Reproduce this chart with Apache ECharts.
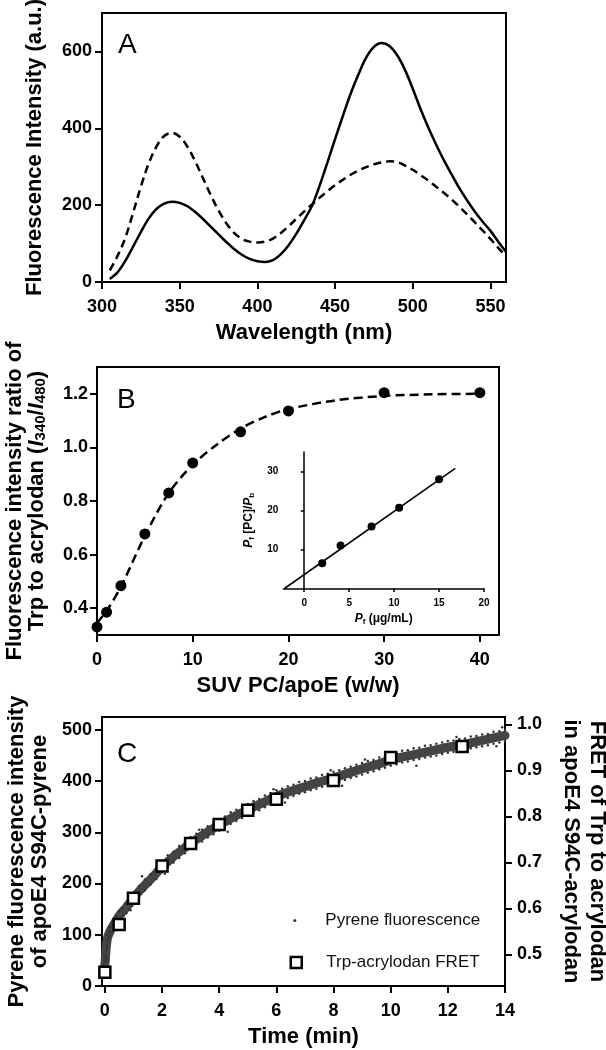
<!DOCTYPE html>
<html><head><meta charset="utf-8">
<script src="https://cdn.jsdelivr.net/npm/echarts@6/dist/echarts.min.js"></script>
<style>html,body{margin:0;padding:0;background:#fff}#c{width:606px;height:1050px}</style>
</head><body><div id="c"></div>
<script>
// ---------- Panel A: emission spectra ----------
const wavelengthNm = [305,310,315,320,325,330,335,340,345,350,355,360,365,370,375,380,385,390,395,400,405,410,415,420,425,430,435,440,445,450,455,460,465,470,475,480,485,490,495,500,505,510,515,520,525,530,535,540,545,550,555,560];
const spectrumSolid = [8,25,55,92,130,165,190,204,209,206,197,182,164,144,124,104,86,71,60,54,52,57,72,95,125,160,197,250,310,372,432,490,540,584,612,622,614,590,552,503,450,402,358,317,280,244,212,183,157,133,105,79];
const spectrumDashed = [30,68,115,180,248,308,352,380,388,378,352,314,270,226,186,153,128,112,105,103,105,113,127,145,164,183,201,219,236,252,266,279,290,299,306,311,314,312,303,292,278,264,248,232,215,196,176,155,134,112,89,67];
const ticksA_x = [300,350,400,450,500,550];
const ticksA_y = [0,200,400,600];

// ---------- Panel B: ratio vs SUV PC/apoE ----------
const ratioPcApoE = [0,1,2.5,5,7.5,10,15,20,30,40];
const ratioValues = [0.33,0.385,0.484,0.677,0.83,0.942,1.058,1.136,1.204,1.204];
const fitPcApoE = [0,1,2.5,5,7.5,10,12.5,15,17.5,20,25,30,35,40];
const fitValues = [0.345,0.39,0.48,0.67,0.83,0.935,1.01,1.07,1.113,1.143,1.176,1.192,1.198,1.2];
const ticksB_x = [0,10,20,30,40];
const ticksB_y = [0.4,0.6,0.8,1.0,1.2];

// ---------- Panel B inset ----------
const insetPf = [2.0,4.04,7.49,10.56,15.0];
const insetRatio = [6.5,11.0,15.9,20.7,28.0];
const insetFitX = [-2.2,16.8];
const insetFitY = [0,30.8];
const ticksInset_x = [0,5,10,15,20];
const ticksInset_y = [10,20,30];

// ---------- Panel C: kinetics ----------
const fretTime = [0,0.5,1,2,3,4,5,6,8,10,12.5];
const fretValues = [0.461,0.565,0.622,0.692,0.741,0.782,0.813,0.837,0.878,0.928,0.952];
const pyreneTime = [0,0.03,0.06,0.1,0.15,0.2,0.3,0.4,0.5,0.6,0.7,0.8,0.9,1.0,1.2,1.4,1.6,1.8,2.0,2.25,2.5,2.75,3.0,3.25,3.5,3.75,4.0,4.25,4.5,4.75,5.0,5.5,6.0,6.5,7.0,7.5,8.0,8.5,9.0,9.5,10.0,10.5,11.0,11.5,12.0,12.5,13.0,13.5,14.0];
const pyreneMid = [40,62,82,95,103,109,119,128,137,144,150,157,164,172,185,197,208,220,233,245,257,268,279,288,297,306,314,322,330,337,344,357,370,380,389,398,406,415,424,432,441,448,454,460,466,471,477,483,489];
const pyreneEarlyDots = [[0.02,48],[0.03,58],[0.05,70],[0.06,78],[0.08,88],[0.1,100],[0.12,92],[0.15,106],[0.18,98],[0.2,115],[0.25,104],[0.3,126],[0.35,112],[0.4,136],[0.45,121],[0.5,146],[0.55,130],[0.6,152],[0.65,137],[0.7,160],[0.75,142],[0.8,166],[0.85,150],[0.9,174],[0.95,156],[1.0,182],[1.05,163]];
const pyreneDotTime = [1.2,1.4,1.6,1.8,2.0,2.2,2.4,2.6,2.8,3.0,3.2,3.4,3.6,3.8,4.0,4.2,4.4,4.6,4.8,5.0,5.2,5.4,5.6,5.8,6.0,6.2,6.4,6.6,6.8,7.0,7.2,7.4,7.6,7.8,8.0,8.2,8.4,8.6,8.8,9.0,9.2,9.4,9.6,9.8,10.0,10.2,10.4,10.6,10.8,11.0,11.2,11.4,11.6,11.8,12.0,12.2,12.4,12.6,12.8,13.0,13.2,13.4,13.6,13.8,14.0];
const pyreneDotUpper = [195,208,218,231,244,255,262,273,281,291,297,305,312,319,325,331,339,344,351,355,361,365,372,376,382,385,390,393,398,400,405,407,412,414,418,421,425,428,432,435,439,441,446,448,453,455,459,460,464,465,469,470,473,475,478,479,482,483,487,488,491,492,496,497,500];
const pyreneDotLower = [175,187,198,209,222,232,241,250,259,268,275,282,290,296,303,309,316,322,328,333,338,343,349,354,359,363,367,371,375,378,382,385,389,392,395,399,402,406,409,413,416,419,423,426,430,433,436,438,441,443,446,448,450,453,455,457,459,461,464,466,468,470,473,475,478];
const pyreneStray = [[0.05,52],[0.08,75],[0.9,148],[1.3,214],[2.1,219],[3.3,305],[4.3,301],[5.9,384],[6.3,358],[7.9,421],[8.3,391],[9.1,442],[10.9,430],[12.3,486],[13.9,505],[13.7,468]];
const ticksC_x = [0,2,4,6,8,10,12,14];
const ticksC_yL = [0,100,200,300,400,500];
const ticksC_yR = [0.5,0.6,0.7,0.8,0.9,1.0];

// ---------- build ----------
const FONT = '"Liberation Sans", Arial, Helvetica, sans-serif';
const zip = (a, b) => a.map((v, i) => [v, b[i]]);

function axis(o) {
  const lw = o.lw || 2;
  const ax = {
    type: 'value', gridIndex: o.grid, min: o.min, max: o.max,
    position: o.position,
    axisLine: { show: true, onZero: !!o.onZero, lineStyle: { color: '#000', width: lw } },
    axisTick: { show: true, inside: false, length: o.tickLen || 7, customValues: o.ticks, lineStyle: { color: '#000', width: lw } },
    axisLabel: { show: true, customValues: o.ticks, margin: o.margin, color: '#000', fontFamily: FONT,
      fontWeight: 'bold', fontSize: o.fs || 18, formatter: o.fmt || (v => String(v)) },
    splitLine: { show: false },
    nameMoveOverlap: false
  };
  if (o.name) {
    ax.name = o.name;
    ax.nameLocation = 'middle';
    ax.nameGap = o.nameGap;
    if (o.nameRotate !== undefined) ax.nameRotate = o.nameRotate;
    ax.nameTextStyle = Object.assign({ color: '#000', fontFamily: FONT, fontWeight: 'bold',
      fontSize: o.nfs || 22, lineHeight: o.nlh || 22 }, o.nts || {});
  }
  return ax;
}

const richBig = {
  t: { fontFamily: FONT, fontWeight: 'bold', fontSize: 22, lineHeight: 22, color: '#000' },
  i: { fontFamily: FONT, fontWeight: 'bold', fontStyle: 'italic', fontSize: 22, lineHeight: 22, color: '#000' },
  s: { fontFamily: FONT, fontWeight: 'bold', fontSize: 15, lineHeight: 10, verticalAlign: 'bottom', color: '#000' }
};
const richSmall = {
  t: { fontFamily: FONT, fontWeight: 'bold', fontSize: 12, lineHeight: 13, color: '#000' },
  i: { fontFamily: FONT, fontWeight: 'bold', fontStyle: 'italic', fontSize: 12, lineHeight: 13, color: '#000' },
  s: { fontFamily: FONT, fontWeight: 'bold', fontSize: 8, lineHeight: 6, verticalAlign: 'bottom', color: '#000' }
};

const fixed1 = v => v.toFixed(1);
const gridBox = { show: true, borderColor: '#000', borderWidth: 2, backgroundColor: 'transparent', containLabel: false, outerBoundsMode: 'none' };

const option = {
  backgroundColor: '#fff',
  animation: false,
  grid: [
    Object.assign({ left: 102, top: 13, width: 404, height: 269 }, gridBox),
    Object.assign({ left: 97, top: 367, width: 402, height: 268 }, gridBox),
    { left: 283.3, top: 452, width: 200.7, height: 136.5, show: false, containLabel: false, outerBoundsMode: 'none' },
    Object.assign({ left: 102, top: 717, width: 403, height: 269 }, gridBox)
  ],
  xAxis: [
    axis({ grid: 0, min: 300, max: 560, ticks: ticksA_x, margin: 16, name: 'Wavelength (nm)', nameGap: 40 }),
    axis({ grid: 1, min: 0, max: 42, ticks: ticksB_x, margin: 16, name: 'SUV PC/apoE (w/w)', nameGap: 40 }),
    axis({ grid: 2, min: -2.33, max: 20, ticks: ticksInset_x, margin: 10, fs: 10, tickLen: 3.5, lw: 1.5,
      name: '{i|P}{s|f}{t| (μg/mL)}', nameGap: 24, nfs: 12, nlh: 13, nts: { rich: richSmall } }),
    axis({ grid: 3, min: -0.1, max: 14, ticks: ticksC_x, margin: 16, name: 'Time (min)', nameGap: 40 })
  ],
  yAxis: [
    axis({ grid: 0, min: 0, max: 700, ticks: ticksA_y, margin: 10, name: 'Fluorescence Intensity (a.u.)', nameGap: 56 }),
    axis({ grid: 1, min: 0.3, max: 1.3, ticks: ticksB_y, margin: 9, fmt: fixed1,
      name: '{t|Fluorescence intensity ratio of}\n{t|Trp to acrylodan (}{i|I}{s|340}{t|/}{i|I}{s|480}{t|)}',
      nameGap: 49, nts: { rich: richBig } }),
    axis({ grid: 2, min: 0, max: 35, ticks: ticksInset_y, margin: 5, fs: 10, tickLen: 3.5, lw: 1.5, onZero: true,
      name: '{i|P}{s|f}{t| [PC]/}{i|P}{s|b}', nameGap: 28, nfs: 12, nlh: 13, nts: { rich: richSmall } }),
    axis({ grid: 3, min: 0, max: 525, ticks: ticksC_yL, margin: 10, nlh: 23,
      name: 'Pyrene fluorescence intensity\nof apoE4 S94C-pyrene', nameGap: 51 }),
    axis({ grid: 3, min: 0.431, max: 1.016, ticks: ticksC_yR, margin: 12, fmt: fixed1, position: 'right', nlh: 26,
      name: 'FRET of Trp to acrylodan\nin apoE4 S94C-acrylodan', nameGap: 53, nameRotate: -90 })
  ],
  legend: [
    { show: true, selectedMode: false, orient: 'vertical', left: 293.3, top: 912, padding: 0,
      itemWidth: 3, itemHeight: 3, data: ['Pyrene fluorescence'],
      textStyle: { fontFamily: FONT, fontSize: 17, color: '#111', padding: [0, 0, 0, 24] } },
    { show: true, selectedMode: false, orient: 'vertical', left: 289.5, top: 954, padding: 0,
      itemWidth: 11, itemHeight: 11, data: ['Trp-acrylodan FRET'],
      itemStyle: { borderWidth: 2.5, opacity: 1 },
      textStyle: { fontFamily: FONT, fontSize: 17, color: '#111', padding: [0, 0, 0, 19.5] } }
  ],
  graphic: [
    { type: 'text', x: 118, y: 45, style: { text: 'A', fontSize: 28, fontFamily: FONT, fill: '#000', verticalAlign: 'middle' } },
    { type: 'text', x: 117, y: 400, style: { text: 'B', fontSize: 28, fontFamily: FONT, fill: '#000', verticalAlign: 'middle' } },
    { type: 'text', x: 117, y: 754, style: { text: 'C', fontSize: 28, fontFamily: FONT, fill: '#000', verticalAlign: 'middle' } }
  ],
  series: [
    { name: 'solid', type: 'line', xAxisIndex: 0, yAxisIndex: 0, data: zip(wavelengthNm, spectrumSolid),
      showSymbol: false, smooth: 0.35, lineStyle: { color: '#000', width: 2.5 } },
    { name: 'dashed', type: 'line', xAxisIndex: 0, yAxisIndex: 0, data: zip(wavelengthNm, spectrumDashed),
      showSymbol: false, smooth: 0.35, lineStyle: { color: '#000', width: 2.5, type: [8, 5] } },

    { name: 'fit', type: 'line', xAxisIndex: 1, yAxisIndex: 1, data: zip(fitPcApoE, fitValues),
      showSymbol: false, smooth: 0.3, lineStyle: { color: '#000', width: 2.5, type: [9, 5] } },
    { name: 'ratio', type: 'scatter', xAxisIndex: 1, yAxisIndex: 1, data: zip(ratioPcApoE, ratioValues),
      symbolSize: 11, itemStyle: { color: '#000', opacity: 1 }, z: 4 },

    { name: 'insetFit', type: 'line', xAxisIndex: 2, yAxisIndex: 2, data: zip(insetFitX, insetFitY),
      showSymbol: false, lineStyle: { color: '#000', width: 1.6 } },
    { name: 'insetPts', type: 'scatter', xAxisIndex: 2, yAxisIndex: 2, data: zip(insetPf, insetRatio),
      symbolSize: 8, itemStyle: { color: '#000', opacity: 1 }, z: 4 },

    { name: 'pyreneBand', type: 'line', xAxisIndex: 3, yAxisIndex: 3, data: zip(pyreneTime, pyreneMid),
      showSymbol: false, smooth: 0.3, silent: true, lineStyle: { color: '#444', width: 9, cap: 'round', join: 'round' } },
    { name: 'Pyrene fluorescence', type: 'scatter', xAxisIndex: 3, yAxisIndex: 3,
      data: pyreneEarlyDots.concat(zip(pyreneDotTime, pyreneDotUpper), zip(pyreneDotTime, pyreneDotLower), pyreneStray),
      symbolSize: 2.5, itemStyle: { color: '#333', opacity: 1 }, z: 3 },
    { name: 'Trp-acrylodan FRET', type: 'scatter', xAxisIndex: 3, yAxisIndex: 4, data: zip(fretTime, fretValues),
      symbol: 'rect', symbolSize: 11, itemStyle: { color: '#fff', borderColor: '#000', borderWidth: 2.5, opacity: 1 }, z: 6 }
  ]
};

const chart = echarts.init(document.getElementById('c'), null, { renderer: 'canvas' });
chart.setOption(option);
</script></body></html>
